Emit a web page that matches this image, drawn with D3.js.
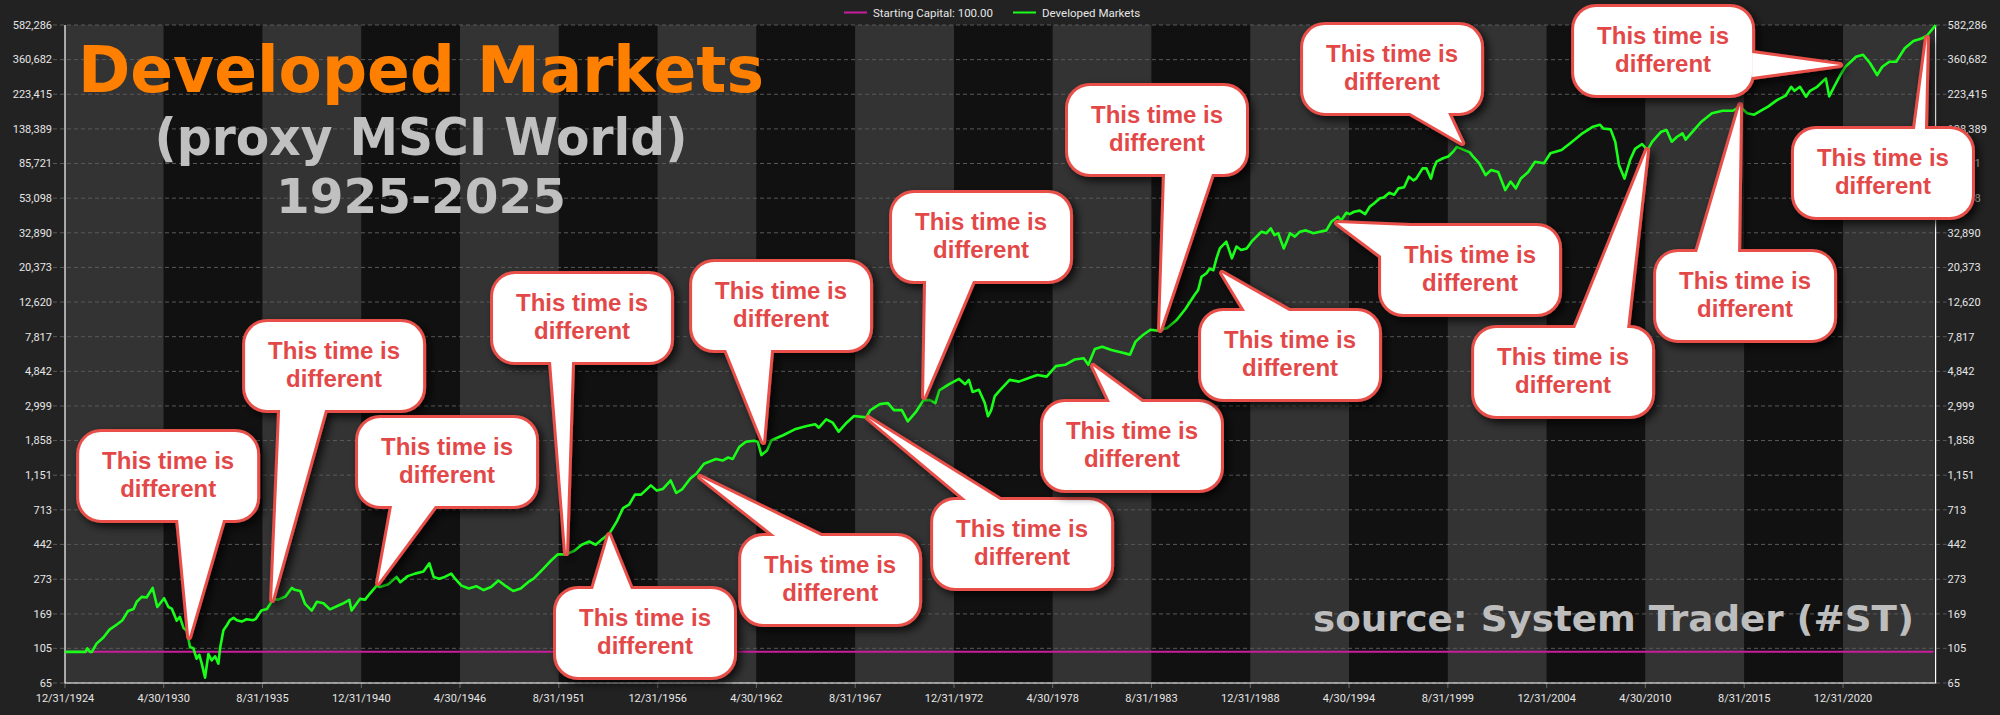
<!DOCTYPE html>
<html>
<head>
<meta charset="utf-8">
<script src="https://cdn.jsdelivr.net/npm/d3@7"></script>
<style>
  body { margin: 0; background: #222; }
  svg { display: block; }
  text { font-family: "Segoe UI", Roboto, "Liberation Sans", sans-serif; }
</style>
</head>
<body>
<svg width="2000" height="715"></svg>
<script>
// Developed Markets (proxy MSCI World), growth of 100, log scale
var years = [
  1925.00, 1926.10, 1926.20, 1926.35, 1926.45, 1926.70, 1927.07, 1927.40, 1927.80, 1928.10,
  1928.40, 1928.70, 1928.87, 1929.14, 1929.40, 1929.73, 1929.98, 1930.35, 1930.58, 1930.76,
  1931.03, 1931.20, 1931.40, 1931.57, 1931.75, 1931.93, 1932.10, 1932.25, 1932.38, 1932.56,
  1932.74, 1932.92, 1933.10, 1933.28, 1933.37, 1933.55, 1933.73, 1933.90, 1934.10, 1934.27,
  1934.54, 1934.80, 1935.16, 1935.30, 1935.60, 1935.90, 1936.25, 1936.50, 1936.90, 1937.24,
  1937.40, 1937.70, 1937.96, 1938.32, 1938.60, 1938.95, 1939.30, 1939.67, 1940.00, 1940.35,
  1940.47, 1940.92, 1941.20, 1941.46, 1941.83, 1942.00, 1942.45, 1942.90, 1943.10, 1943.50,
  1943.90, 1944.35, 1944.67, 1944.90, 1945.20, 1945.50, 1945.85, 1946.06, 1946.40, 1946.80,
  1947.20, 1947.60, 1948.00, 1948.40, 1948.80, 1949.20, 1949.60, 1950.00, 1950.30, 1950.75,
  1951.20, 1951.60, 1952.05, 1952.50, 1952.90, 1953.30, 1953.65, 1953.95, 1954.40, 1954.80,
  1955.13, 1955.45, 1955.77, 1956.10, 1956.63, 1956.95, 1957.27, 1957.70, 1958.00, 1958.33,
  1958.76, 1959.10, 1959.50, 1959.94, 1960.15, 1960.50, 1960.80, 1961.05, 1961.40, 1961.76,
  1962.20, 1962.40, 1962.60, 1962.90, 1963.14, 1963.77, 1964.40, 1965.05, 1965.50, 1965.70,
  1966.10, 1966.45, 1966.77, 1967.20, 1967.60, 1968.26, 1968.47, 1969.00, 1969.43, 1969.75,
  1970.18, 1970.50, 1970.93, 1971.35, 1971.70, 1971.99, 1972.20, 1972.74, 1973.27, 1973.60,
  1973.80, 1974.00, 1974.34, 1974.66, 1974.83, 1975.00, 1975.20, 1975.47, 1976.00, 1976.50,
  1977.00, 1977.50, 1978.00, 1978.50, 1979.00, 1979.50, 1980.00, 1980.25, 1980.60, 1981.00,
  1981.50, 1982.00, 1982.50, 1982.80, 1983.20, 1983.60, 1984.00, 1984.50, 1985.00, 1985.50,
  1986.00, 1986.18, 1986.36, 1986.63, 1986.80, 1987.00, 1987.17, 1987.35, 1987.70, 1988.00,
  1988.25, 1988.50, 1988.80, 1989.06, 1989.33, 1989.60, 1989.87, 1990.10, 1990.30, 1990.50,
  1990.80, 1990.96, 1991.14, 1991.40, 1991.67, 1992.00, 1992.40, 1992.75, 1993.10, 1993.37,
  1993.73, 1993.90, 1994.18, 1994.36, 1994.60, 1994.90, 1995.20, 1995.45, 1995.70, 1996.00,
  1996.20, 1996.50, 1996.76, 1997.00, 1997.30, 1997.56, 1997.80, 1997.95, 1998.30, 1998.50,
  1998.75, 1998.90, 1999.05, 1999.40, 1999.68, 1999.95, 2000.15, 2000.40, 2000.85, 2000.98,
  2001.35, 2001.70, 2002.00, 2002.38, 2002.76, 2003.05, 2003.33, 2003.60, 2004.00, 2004.37,
  2004.85, 2005.20, 2005.80, 2006.37, 2006.93, 2007.50, 2007.87, 2008.06, 2008.45, 2008.70,
  2008.90, 2009.20, 2009.50, 2009.77, 2010.15, 2010.44, 2010.70, 2011.18, 2011.47, 2011.75,
  2012.04, 2012.33, 2012.50, 2012.88, 2013.35, 2013.92, 2014.50, 2015.06, 2015.44, 2015.82,
  2016.20, 2016.57, 2016.95, 2017.43, 2017.90, 2018.20, 2018.38, 2018.67, 2019.00, 2019.22,
  2019.60, 2020.07, 2020.25, 2020.56, 2020.85, 2021.13, 2021.70, 2022.08, 2022.46, 2022.84,
  2023.12, 2023.50, 2023.87, 2024.33, 2024.80, 2025.28, 2025.55, 2025.94, 2025.99
];
var values = [
  100, 100, 105, 100, 100, 112, 122, 136, 146, 155,
  176, 181, 200, 214, 212, 242, 186, 210, 186, 182,
  154, 162, 139, 134, 107, 105, 91, 96, 85, 70,
  97, 89, 94, 85, 105, 135, 144, 155, 160, 155,
  152, 157, 155, 158, 177, 181, 208, 206, 215, 242,
  236, 232, 194, 177, 200, 196, 180, 188, 195, 205,
  177, 208, 206, 224, 250, 245, 255, 282, 262, 285,
  295, 304, 340, 282, 275, 282, 295, 275, 250, 240,
  248, 235, 245, 268, 248, 232, 240, 262, 275, 310,
  350, 385, 385, 405, 440, 460, 440, 470, 515, 610,
  730, 765, 880, 880, 1000, 930, 950, 1070, 900, 950,
  1100, 1180, 1350, 1410, 1440, 1410, 1470, 1440, 1700, 1830,
  1855, 1830, 1520, 1620, 1865, 2000, 2170, 2270, 2330, 2220,
  2490, 2380, 2100, 2380, 2610, 2560, 2820, 3080, 3120, 2830,
  2830, 2420, 2750, 3250, 3250, 3120, 3720, 4050, 4360, 4050,
  4300, 3640, 3750, 3120, 2600, 2820, 3440, 3720, 4300, 4200,
  4400, 4600, 4500, 5200, 5300, 5700, 5800, 5300, 6600, 6800,
  6500, 6300, 6100, 7300, 8000, 8600, 8500, 8800, 9800, 11500,
  14000, 14900, 17900, 18800, 20000, 19600, 23100, 26500, 29100, 23100,
  27200, 25900, 26500, 29100, 31200, 33400, 32700, 35000, 31800, 32700,
  26500, 29100, 32700, 31200, 33400, 34000, 32700, 33400, 34000, 38300,
  41100, 39000, 43400, 42600, 44000, 44700, 42600, 47300, 49600, 53000,
  53600, 57200, 55700, 60800, 61800, 71500, 67900, 69600, 80200, 80200,
  69600, 80200, 87900, 92200, 94400, 101000, 108000, 105000, 100000, 95600,
  86100, 73100, 78300, 76300, 59400, 66800, 60800, 69600, 76300, 87900,
  86100, 98700, 103300, 115900, 130200, 142700, 146600, 139000, 137400, 115900,
  84000, 69600, 90000, 105000, 112300, 103300, 115900, 133100, 136200, 115900,
  124100, 130200, 119200, 133100, 152900, 171700, 177900, 177900, 188200, 171700,
  168500, 177900, 188200, 206000, 219000, 247700, 234300, 247700, 216000, 234300,
  247700, 278400, 217000, 253000, 291500, 327000, 375000, 386000, 343000, 291500,
  327000, 350000, 350000, 422000, 466700, 485000, 505000, 570000, 582286
];
var startCapital = 100;

var xTickLabels = ["12/31/1924", "4/30/1930", "8/31/1935", "12/31/1940", "4/30/1946",
  "8/31/1951", "12/31/1956", "4/30/1962", "8/31/1967", "12/31/1972", "4/30/1978",
  "8/31/1983", "12/31/1988", "4/30/1994", "8/31/1999", "12/31/2004", "4/30/2010",
  "8/31/2015", "12/31/2020"];
var xEndLabel = "12/31/2025";
var yTickValues = [65, 105, 169, 273, 442, 713, 1151, 1858, 2999, 4842, 7817, 12620,
  20373, 32890, 53098, 85721, 138389, 223415, 360682, 582286];

var legendNames = ["Starting Capital: 100.00", "Developed Markets"];
var calloutText = ["This time is", "different"];

// tip = point on the chart (year, value); dx/dy = box centre from tip; base = pointer base from box centre
var callouts = [
  {year: 1931.70, value: 123,    dx: -21,  dy: -161, base: [[10, 44], [55, 44]]},
  {year: 1936.18, value: 205,    dx: 62,   dy: -234, base: [[-54, 44], [-9, 44]]},
  {year: 1941.90, value: 259,    dx: 69,   dy: -121, base: [[-55, 44], [-12, 44]]},
  {year: 1952.05, value: 392,    dx: 16,   dy: -235, base: [[-31, 44], [-10, 44]]},
  {year: 1954.37, value: 503,    dx: 36,   dy: 98,   base: [[-52, -44], [-14, -44]]},
  {year: 1962.69, value: 1822,   dx: 18,   dy: -136, base: [[-55, 44], [-10, 44]]},
  {year: 1959.29, value: 1123,   dx: 130,  dy: 103,  base: [[-55, -44], [-9, -44]]},
  {year: 1971.38, value: 3396,   dx: 57,   dy: -160, base: [[-55, 44], [-8, 44]]},
  {year: 1968.36, value: 2539,   dx: 154,  dy: 126,  base: [[-56, -44], [-22, -44]]},
  {year: 1980.50, value: 5213,   dx: 39,   dy: 80,   base: [[-22, -44], [10, -44]]},
  {year: 1984.12, value: 8576,   dx: -3,   dy: -200, base: [[8, 44], [55, 44]]},
  {year: 1987.47, value: 18870,  dx: 68,   dy: 82,   base: [[-45, -44], [-1, -44]]},
  {year: 2000.43, value: 113950, dx: -70,  dy: -74,  base: [[18, 44], [56, 44]]},
  {year: 1993.68, value: 37670,  dx: 133,  dy: 47,   base: [[-60, -44], [-89, -14]]},
  {year: 2010.42, value: 103400, dx: -84,  dy: 222,  base: [[12, -44], [64, -44]]},
  {year: 2015.44, value: 192800, dx: 5,    dy: 191,  base: [[-48, -44], [-7, -44]]},
  {year: 2020.84, value: 335100, dx: -177, dy: -14,  base: [[89, 2], [89, 26]]},
  {year: 2025.53, value: 486700, dx: -44,  dy: 135,  base: [[32, -44], [42, -44]]}
];

var svg = d3.select("svg"),
    width = +svg.attr("width"),
    height = +svg.attr("height");

var margin = {top: 25, right: 64.4, bottom: 32, left: 65};
var parseDate = d3.timeParse("%m/%d/%Y");

function yearToDate(yr) {
  return new Date(Date.UTC(1925, 0, 1) + (yr - 1925) * 365.25 * 864e5);
}

var xTicks = xTickLabels.map(parseDate);
var x = d3.scaleTime()
    .domain([xTicks[0], parseDate(xEndLabel)])
    .range([margin.left, width - margin.right]);
var y = d3.scaleLog()
    .domain([yTickValues[0], yTickValues[yTickValues.length - 1]])
    .range([height - margin.bottom, margin.top]);

var x0 = margin.left, x1 = width - margin.right,
    y0 = height - margin.bottom, y1 = margin.top;

// alternating vertical bands
var bandEdges = xTicks.concat([x.domain()[1]]);
svg.append("g")
  .selectAll("rect")
  .data(d3.range(xTicks.length))
  .enter().append("rect")
    .attr("x", function(i) { return x(bandEdges[i]); })
    .attr("y", y1)
    .attr("width", function(i) { return x(bandEdges[i + 1]) - x(bandEdges[i]); })
    .attr("height", y0 - y1)
    .attr("fill", function(i) { return i % 2 ? "#111111" : "#333333"; });

// horizontal grid + outside tick marks
svg.append("g")
  .selectAll("line")
  .data(yTickValues)
  .enter().append("line")
    .attr("x1", x0 - 12).attr("x2", x1 + 11)
    .attr("y1", function(d) { return y(d); })
    .attr("y2", function(d) { return y(d); })
    .attr("stroke", "#5a5a5a")
    .attr("stroke-dasharray", "4,3");

// y labels, both sides
var yLabels = svg.append("g")
    .attr("font-size", 11)
    .attr("fill", "#e6e6e6");
yLabels.selectAll(".yl")
  .data(yTickValues)
  .enter().append("text")
    .attr("x", x0 - 13)
    .attr("y", function(d) { return y(d); })
    .attr("dy", "0.35em")
    .attr("text-anchor", "end")
    .text(function(d) { return d3.format(",")(d); });
yLabels.selectAll(".yr")
  .data(yTickValues)
  .enter().append("text")
    .attr("x", x1 + 12)
    .attr("y", function(d) { return y(d); })
    .attr("dy", "0.35em")
    .text(function(d) { return d3.format(",")(d); });

// x ticks and labels
svg.append("g")
  .selectAll("line")
  .data(xTicks)
  .enter().append("line")
    .attr("x1", function(d) { return x(d); })
    .attr("x2", function(d) { return x(d); })
    .attr("y1", y0).attr("y2", y0 + 5)
    .attr("stroke", "#666");
svg.append("g")
    .attr("font-size", 11)
    .attr("fill", "#e6e6e6")
  .selectAll("text")
  .data(xTicks)
  .enter().append("text")
    .attr("x", function(d) { return x(d); })
    .attr("y", y0 + 19)
    .attr("text-anchor", "middle")
    .text(function(d, i) { return xTickLabels[i]; });

// axis frame
svg.append("path")
    .attr("d", "M" + x0 + "," + y1 + "V" + y0 + "H" + x1 + "V" + y1)
    .attr("fill", "none")
    .attr("stroke", "#ffffff")
    .attr("stroke-width", 1.2);

// starting capital line
svg.append("line")
    .attr("x1", x0).attr("x2", x1 - 2)
    .attr("y1", y(startCapital)).attr("y2", y(startCapital))
    .attr("stroke", "#c81e9e")
    .attr("stroke-width", 2);

// equity line
var line = d3.line()
    .x(function(d, i) { return x(yearToDate(years[i])); })
    .y(function(d) { return y(d); });
svg.append("path")
    .datum(values)
    .attr("d", line)
    .attr("fill", "none")
    .attr("stroke", "#1aff1a")
    .attr("stroke-width", 2.6)
    .attr("stroke-linejoin", "round");

// titles
var titles = [
  {t: "Developed Markets", size: 64, len: 686, yb: 92, fill: "#ff8000"},
  {t: "(proxy MSCI World)", size: 51, len: 533, yb: 155, fill: "#c0c0c0"},
  {t: "1925-2025", size: 48, len: 290, yb: 213, fill: "#c0c0c0"}
];
svg.append("g")
  .selectAll("text")
  .data(titles)
  .enter().append("text")
    .attr("x", 421)
    .attr("y", function(d) { return d.yb; })
    .attr("text-anchor", "middle")
    .attr("textLength", function(d) { return d.len; })
    .attr("lengthAdjust", "spacingAndGlyphs")
    .style("font-family", "'DejaVu Sans', Verdana, sans-serif")
    .style("font-weight", "bold")
    .style("font-size", function(d) { return d.size + "px"; })
    .attr("fill", function(d) { return d.fill; })
    .text(function(d) { return d.t; });

svg.append("text")
    .attr("x", 1914)
    .attr("y", 631)
    .attr("text-anchor", "end")
    .attr("textLength", 601)
    .attr("lengthAdjust", "spacingAndGlyphs")
    .style("font-family", "'DejaVu Sans', Verdana, sans-serif")
    .style("font-weight", "bold")
    .style("font-size", "35px")
    .attr("fill", "#bdbdbd")
    .text("source: System Trader (#ST)");

// legend
var legend = svg.append("g").attr("font-size", 11.5).attr("fill", "#e6e6e6");
var legendItems = [{x: 844, color: "#c81e9e"}, {x: 1013, color: "#1aff1a"}];
legendItems.forEach(function(d, i) {
  legend.append("line")
      .attr("x1", d.x).attr("x2", d.x + 23)
      .attr("y1", 12.5).attr("y2", 12.5)
      .attr("stroke", d.color)
      .attr("stroke-width", 2);
  legend.append("text")
      .attr("x", d.x + 29)
      .attr("y", 12.5)
      .attr("dy", "0.35em")
      .text(legendNames[i]);
});

// callouts
var shadow = svg.append("defs").append("filter")
    .attr("id", "shadow")
    .attr("x", "-30%").attr("y", "-30%")
    .attr("width", "160%").attr("height", "160%");
shadow.append("feDropShadow")
    .attr("dx", 4).attr("dy", 4)
    .attr("stdDeviation", 4)
    .attr("flood-color", "#000")
    .attr("flood-opacity", 0.75);

var boxW = 178, boxH = 88, red = "#e84f4a";

callouts.forEach(function(c) {
  var tx = x(yearToDate(c.year)), ty = y(c.value);
  var cx = tx + c.dx, cy = ty + c.dy;
  var pts = [[tx, ty],
             [cx + c.base[0][0], cy + c.base[0][1]],
             [cx + c.base[1][0], cy + c.base[1][1]]];
  var g = svg.append("g").attr("filter", "url(#shadow)");

  [[red, 6], ["#ffffff", 0]].forEach(function(pass) {
    g.append("polygon")
        .attr("points", pts.map(function(p) { return p.join(","); }).join(" "))
        .attr("fill", pass[0])
        .attr("stroke", pass[1] ? red : "none")
        .attr("stroke-width", pass[1])
        .attr("stroke-linejoin", "round");
    g.append("rect")
        .attr("x", cx - boxW / 2).attr("y", cy - boxH / 2)
        .attr("width", boxW).attr("height", boxH)
        .attr("rx", 22)
        .attr("fill", pass[0])
        .attr("stroke", pass[1] ? red : "none")
        .attr("stroke-width", pass[1]);
  });

  svg.append("text")
      .attr("x", cx)
      .attr("text-anchor", "middle")
      .style("font-family", "'Liberation Sans', Arial, sans-serif")
      .style("font-weight", "bold")
      .style("font-size", "24px")
      .attr("fill", "#e34848")
    .selectAll("tspan")
    .data(calloutText)
    .enter().append("tspan")
      .attr("x", cx)
      .attr("y", function(d, i) { return cy - 7 + i * 28; })
      .text(function(d) { return d; });
});
</script>
</body>
</html>
